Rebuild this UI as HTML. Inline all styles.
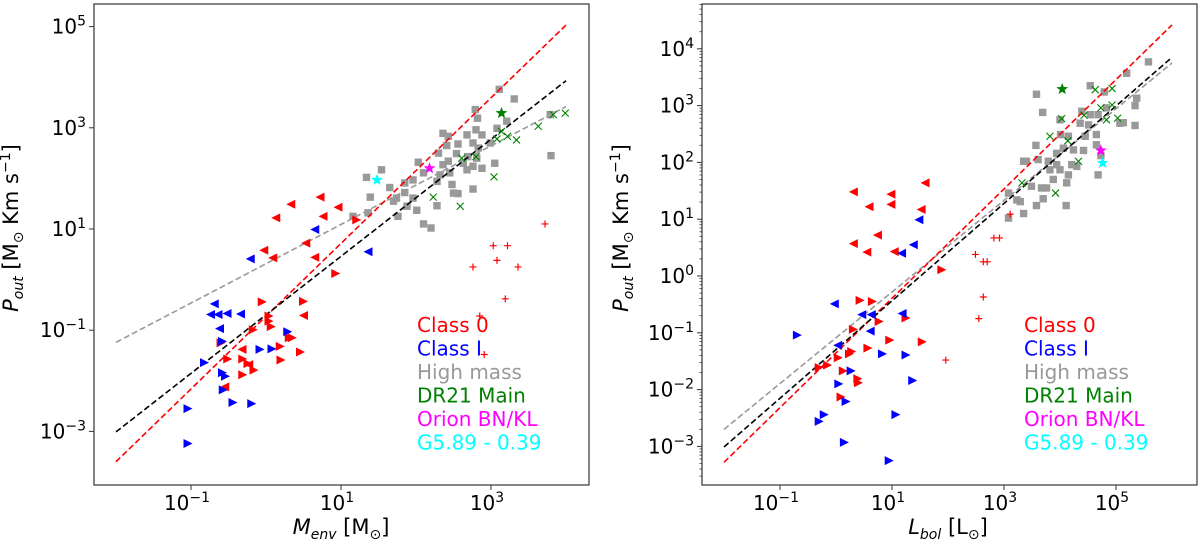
<!DOCTYPE html>
<html><head><meta charset="utf-8"><style>
html,body{margin:0;padding:0;background:#fff;}
svg{display:block;font-family:"DejaVu Sans","Liberation Sans",sans-serif;}
</style></head><body>
<svg id="chart" width="1200" height="545" viewBox="0 0 1200 545" xmlns="http://www.w3.org/2000/svg">
<g id="left"></g>
<g id="right"></g>
</svg>
<script>
// ===== Left panel data (log10 values) =====
const L_c0L_x=[0.72,0.33,0.96,0.13,0.76,0.53,-0.03,0.09,0.65,0.50,-0.32,-0.23,-0.55];
const L_c0L_y=[1.63,1.49,1.43,1.22,1.25,0.72,0.58,0.43,0.44,-0.71,-1.38,-1.68,-2.12];
const L_c0R_x=[1.21,0.93,-0.05,0.50,0.04,0.04,0.07,-0.17,0.31,0.35,-0.60,0.19,0.46,-0.51,-0.31,0.20,-0.24,-0.16,-0.31];
const L_c0R_y=[1.18,0.12,-0.44,-0.43,-0.72,-0.82,-0.93,-0.99,-1.15,-1.15,-1.25,-1.32,-1.43,-1.57,-1.57,-1.59,-1.66,-1.79,-1.88];
const L_plus_x=[3.72,3.03,3.22,3.08,2.76,3.36,3.19,2.85,2.91];
const L_plus_y=[1.10,0.67,0.67,0.38,0.25,0.25,-0.38,-0.72,-1.48];
const L_c1L_x=[0.65,-0.21,1.36,-0.69,-0.74,-0.64,-0.52,-0.34,-0.62];
const L_c1L_y=[0.99,0.41,0.55,-0.48,-0.69,-0.69,-0.67,-0.68,-0.97];
const L_c1R_x=[0.29,-0.58,-0.08,0.08,-0.82,-0.58,-0.54,-0.57,-1.04,-0.44,-0.19,-1.04];
const L_c1R_y=[-1.03,-1.22,-1.38,-1.37,-1.64,-1.84,-1.91,-2.18,-2.55,-2.43,-2.45,-3.24];
const L_hm_x=[3.11,3.31,2.79,2.82,3.79,2.36,2.43,2.68,2.80,2.88,3.08,3.21,2.56,2.41,2.76,2.99,2.83,2.30,2.54,2.69,2.81,3.05,2.43,2.63,2.88,2.76,2.45,2.32,2.28,2.10,1.96,1.85,2.03,1.54,1.34,1.65,1.85,1.74,1.96,1.70,1.39,1.36,1.16,1.88,2.28,2.01,1.76,2.10,2.20,2.50,2.56,2.76,2.48,3.80,2.68,2.36];
const L_hm_y=[3.76,3.57,3.36,3.19,3.26,2.89,2.83,2.86,2.96,2.86,2.99,3.13,2.68,2.65,2.70,2.70,2.60,2.50,2.49,2.43,2.40,2.30,2.34,2.30,2.20,2.24,2.11,2.07,1.94,2.11,1.97,1.91,2.32,2.17,2.02,1.82,1.72,1.61,1.61,1.55,1.63,1.32,1.25,1.45,1.46,1.37,1.25,1.10,1.02,1.71,1.70,1.79,1.88,2.45,2.17,2.27];
const L_dr_x=[3.14,3.22,3.34,3.08,3.63,3.83,3.99,2.61,2.80,3.04,2.23,2.59];
const L_dr_y=[2.93,2.83,2.76,2.78,3.03,3.26,3.29,2.40,2.43,2.03,1.63,1.45];
const L_stars_x=[3.14,2.18,1.48];
const L_stars_y=[3.29,2.20,1.97];
const L_fit_x=[-2,4];
const L_fitRed=[-3.6,5.03], L_fitBlack=[-3.01,3.93], L_fitGray=[-1.24,3.42];
const L_xticks=[-1,1,3], L_yticks=[-3,-1,1,3,5];

// ===== Right panel data (log10 values) =====
const R_c0L_x=[0.31,0.98,0.59,0.98,1.52,1.59,0.74,0.31,0.55,1.04];
const R_c0L_y=[1.48,1.44,1.22,1.26,1.17,1.64,0.72,0.57,0.42,0.43];
const R_c0R_x=[1.89,0.43,0.65,0.77,1.25,0.31,0.96,1.54,0.57,0.04,0.28,0.24,-0.15,-0.30,0.13,0.39,0.40,0.09];
const R_c0R_y=[0.11,-0.43,-0.45,-0.80,-0.74,-0.94,-1.13,-1.16,-1.27,-1.44,-1.33,-1.37,-1.57,-1.61,-1.67,-1.81,-1.88,-2.13];
const R_plus_x=[3.11,2.82,2.92,2.49,2.63,2.70,2.63,2.55,1.96];
const R_plus_y=[1.09,0.67,0.67,0.38,0.25,0.25,-0.37,-0.75,-1.48];
const R_c1L_x=[1.48,1.38,1.17,-0.03,0.46,0.63,1.18,0.61,0.03];
const R_c1L_y=[0.99,0.55,0.40,-0.49,-0.68,-0.68,-0.66,-0.97,-1.22];
const R_c1R_x=[-0.69,0.83,1.25,0.27,1.37,0.05,0.18,1.07,-0.21,-0.30,0.15,0.95];
const R_c1R_y=[-1.04,-1.37,-1.39,-1.67,-1.84,-1.90,-2.21,-2.44,-2.44,-2.56,-2.93,-3.25];
const R_hm_x=[5.58,5.19,4.54,4.79,3.58,5.37,5.34,3.69,4.39,4.54,4.68,4.83,4.36,4.51,5.07,5.13,5.34,4.00,4.01,4.15,4.65,4.45,3.57,4.06,4.24,4.42,4.65,3.94,3.61,3.35,3.40,3.79,3.94,4.21,4.30,3.82,4.00,4.15,3.88,4.12,3.67,3.49,3.76,3.08,3.23,3.29,3.70,3.58,4.11,3.35,3.08,4.68,4.73];
const R_hm_y=[3.77,3.57,3.35,3.24,3.20,3.13,3.00,2.88,2.90,2.84,2.84,2.96,2.69,2.66,2.69,2.70,2.65,2.75,2.49,2.46,2.49,2.46,2.30,2.25,2.22,2.21,2.31,2.16,2.05,2.02,2.02,2.02,1.96,1.96,1.93,1.87,1.87,1.78,1.70,1.64,1.55,1.58,1.55,1.46,1.34,1.31,1.36,1.24,1.24,1.10,1.02,1.78,2.12];
const R_dr_x=[4.63,4.93,4.73,4.93,4.43,4.03,4.83,5.03,3.82,4.14,4.33,3.32,3.92];
const R_dr_y=[3.28,3.30,2.96,3.01,2.83,2.77,2.75,2.78,2.46,2.38,2.02,1.64,1.46];
const R_stars_x=[4.04,4.73,4.76];
const R_stars_y=[3.29,2.21,1.99];
const R_fit_x=[-2,6];
const R_fitRed=[-3.28,4.42], R_fitBlack=[-3.01,3.85], R_fitGray=[-2.70,3.75];
const R_xticks=[-1,1,3,5], R_yticks=[-3,-2,-1,0,1,2,3,4];

const legendLabels=["Class 0","Class I","High mass","DR21 Main","Orion BN/KL","G5.89 - 0.39"];
const legendColors=["#ff0000","#0000ff","#999999","#008000","#ff00ff","#00ffff"];

const NS="http://www.w3.org/2000/svg";
function mk(parent,tag,attrs,text){const e=document.createElementNS(NS,tag);for(const k in attrs)e.setAttribute(k,attrs[k]);if(text!==undefined)e.textContent=text;parent.appendChild(e);return e;}

function panel(g,cfg){
  const sx=v=>cfg.x0+(v-cfg.xr)*cfg.xs;
  const sy=v=>cfg.y0-(v-cfg.yr)*cfg.ys;
  const fits=[[cfg.fitGray,"#999999","fit-line-high-mass"],[cfg.fitRed,"#ff0000","fit-line-class0"],[cfg.fitBlack,"#000000","fit-line-all"]];
  const tri=(x,y,dir,col,name)=>{const s=4.5;const p=dir<0?`${x-s},${y} ${x+s},${y-s} ${x+s},${y+s}`:`${x+s},${y} ${x-s},${y-s} ${x-s},${y+s}`;
    const e=mk(g,"polygon",{points:p,fill:col});
    
    };
  cfg.hmx.forEach((v,i)=>{const e=mk(g,"rect",{x:sx(v)-3.7,y:sy(cfg.hmy[i])-3.7,width:7.4,height:7.4,fill:"#999999"});
    
    });
  fits.forEach(f=>{const e=mk(g,"line",{x1:sx(cfg.fitx[0]),y1:sy(f[0][0]),x2:sx(cfg.fitx[1]),y2:sy(f[0][1]),stroke:f[1],"stroke-width":1.6,"stroke-dasharray":"6,3"});
    
    });
  cfg.c0Lx.forEach((v,i)=>tri(sx(v),sy(cfg.c0Ly[i]),-1,"#ff0000","class0-point"));
  cfg.c0Rx.forEach((v,i)=>tri(sx(v),sy(cfg.c0Ry[i]),1,"#ff0000","class0-point"));
  cfg.c1Lx.forEach((v,i)=>tri(sx(v),sy(cfg.c1Ly[i]),-1,"#0000ff","class1-point"));
  cfg.c1Rx.forEach((v,i)=>tri(sx(v),sy(cfg.c1Ry[i]),1,"#0000ff","class1-point"));
  cfg.px.forEach((v,i)=>{const x=sx(v),y=sy(cfg.py[i]);const e=mk(g,"path",{d:`M${x-3.5},${y}H${x+3.5}M${x},${y-3.5}V${y+3.5}`,stroke:"#ff0000","stroke-width":1.2});
    
    });
  cfg.drx.forEach((v,i)=>{const x=sx(v),y=sy(cfg.dry[i]);const e=mk(g,"path",{d:`M${x-3.5},${y-3.5}L${x+3.5},${y+3.5}M${x-3.5},${y+3.5}L${x+3.5},${y-3.5}`,stroke:"#008000","stroke-width":1.1,fill:"none"});
    
    });
  const starCols=["#008000","#ff00ff","#00ffff"];
  cfg.stx.forEach((v,i)=>{const x=sx(v),y=sy(cfg.sty[i]);let p=[];for(let k=0;k<10;k++){const r=k%2?2.6:6.2;const a=-Math.PI/2+k*Math.PI/5;p.push((x+r*Math.cos(a)).toFixed(1)+","+(y+r*Math.sin(a)).toFixed(1));}
    const e=mk(g,"polygon",{points:p.join(" "),fill:starCols[i]});
    
    });
  const fr=mk(g,"rect",{x:cfg.fx0,y:4,width:cfg.fx1-cfg.fx0,height:481,fill:"none",stroke:"#333","stroke-width":1.2});
  
  
  if(cfg.minor){for(let d=-4;d<5;d++)for(let m=2;m<10;m++){const y=sy(d+Math.log10(m));if(y>4&&y<485)mk(g,"line",{x1:cfg.fx0,x2:cfg.fx0-2.5,y1:y,y2:y,stroke:"#333","stroke-width":0.8});}}
  cfg.xt.forEach(t=>{const x=sx(t);mk(g,"line",{x1:x,x2:x,y1:485,y2:490,stroke:"#333"});
    const e=mk(g,"text",{x:x-4,y:510,"font-size":20,"text-anchor":"middle"});
    
    
    mk(e,"tspan",{},"10");mk(e,"tspan",{"font-size":14,dy:-8},t<0?"\u2212"+(-t):String(t));});
  cfg.yt.forEach(t=>{const y=sy(t);mk(g,"line",{x1:cfg.fx0,x2:cfg.fx0-5,y1:y,y2:y,stroke:"#333"});
    const lbl=t<0?"\u2212"+(-t):String(t);
    const e=mk(g,"text",{x:cfg.fx0-8,y:y+7,"font-size":20,"text-anchor":"end"});
    
    
    mk(e,"tspan",{},"10");mk(e,"tspan",{"font-size":14,dy:-8},lbl);});
  legendLabels.forEach((l,i)=>{const e=mk(g,"text",{x:cfg.lx,y:332+i*23.5,"font-size":20,fill:legendColors[i]},l);
    
    });
  const yt=mk(g,"text",{transform:`translate(${cfg.ytx},228) rotate(-90)`,"font-size":21,"text-anchor":"middle"});
  
  
  mk(yt,"tspan",{"font-style":"italic"},"P");mk(yt,"tspan",{"font-style":"italic","font-size":14,dy:5},"out");
  mk(yt,"tspan",{dy:-5}," [M");mk(yt,"tspan",{"font-size":14,dy:5},"\u2299");mk(yt,"tspan",{dy:-5}," Km s");mk(yt,"tspan",{"font-size":14,dy:-8},"\u22121");mk(yt,"tspan",{dy:8},"]");
  const xt=mk(g,"text",{x:cfg.xtx,y:534,"font-size":21,"text-anchor":"middle"});
  
  
  mk(xt,"tspan",{"font-style":"italic"},cfg.xv);mk(xt,"tspan",{"font-style":"italic","font-size":14,dy:5},cfg.xsub);
  mk(xt,"tspan",{dy:-5}," ["+cfg.xu);mk(xt,"tspan",{"font-size":14,dy:5},"\u2299");mk(xt,"tspan",{dy:-5},"]");
}

panel(document.getElementById("left"),{x0:191,xr:-1,xs:75,y0:229,yr:1,ys:50.6,fx0:94,fx1:589,
  hmx:L_hm_x,hmy:L_hm_y,c0Lx:L_c0L_x,c0Ly:L_c0L_y,c0Rx:L_c0R_x,c0Ry:L_c0R_y,c1Lx:L_c1L_x,c1Ly:L_c1L_y,c1Rx:L_c1R_x,c1Ry:L_c1R_y,
  px:L_plus_x,py:L_plus_y,drx:L_dr_x,dry:L_dr_y,stx:L_stars_x,sty:L_stars_y,fitx:L_fit_x,fitRed:L_fitRed,fitBlack:L_fitBlack,fitGray:L_fitGray,
  xt:L_xticks,yt:L_yticks,minor:false,lx:417,ytx:18,xtx:341,xv:"M",xsub:"env",xu:"M"});
panel(document.getElementById("right"),{x0:780,xr:-1,xs:56,y0:276,yr:0,ys:56.8,fx0:702,fx1:1197,
  hmx:R_hm_x,hmy:R_hm_y,c0Lx:R_c0L_x,c0Ly:R_c0L_y,c0Rx:R_c0R_x,c0Ry:R_c0R_y,c1Lx:R_c1L_x,c1Ly:R_c1L_y,c1Rx:R_c1R_x,c1Ry:R_c1R_y,
  px:R_plus_x,py:R_plus_y,drx:R_dr_x,dry:R_dr_y,stx:R_stars_x,sty:R_stars_y,fitx:R_fit_x,fitRed:R_fitRed,fitBlack:R_fitBlack,fitGray:R_fitGray,
  xt:R_xticks,yt:R_yticks,minor:true,lx:1024,ytx:628,xtx:948,xv:"L",xsub:"bol",xu:"L"});
</script>
</body></html>
